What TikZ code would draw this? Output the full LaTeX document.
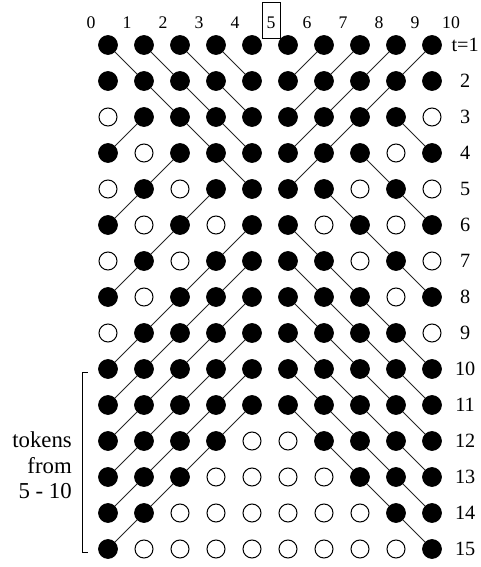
\documentclass[tikz,border=0pt]{standalone}
\usepackage{fontspec}
\setmainfont{Liberation Serif}

\begin{document}
\begin{tikzpicture}[x=1cm, y=-1cm,
    tok/.style={circle, fill=black, draw=black, line width=0.8pt, inner sep=0pt, minimum size=0.52cm},
    hole/.style={circle, fill=white, draw=black, line width=0.8pt, inner sep=0pt, minimum size=0.5cm},
    site1/.style={tok}, site0/.style={hole},
    hop/.style={draw=black!85, line width=0.7pt},
    colnum/.style={font=\fontsize{14}{16}\selectfont, inner sep=0pt},
    rownum/.style={font=\fontsize{16}{18}\selectfont, inner sep=0pt}]
    \useasboundingbox (0,0) rectangle (13.361,15.75);

    % Nhãn cột
    \foreach \k in {0,...,10}
        \node[colnum] (c\k) at (2.53+\k,0.64) {\k};
    \draw[line width=0.6pt] (7.28,0.06) rectangle (7.78,1.06);

    % Các vị trí (1 = có token, 0 = trống)
    \foreach \row [count=\t] in {
        {1,1,1,1,1,1,1,1,1,1},
        {1,1,1,1,1,1,1,1,1,1},
        {0,1,1,1,1,1,1,1,1,0},
        {1,0,1,1,1,1,1,1,0,1},
        {0,1,0,1,1,1,1,0,1,0},
        {1,0,1,0,1,1,0,1,0,1},
        {0,1,0,1,1,1,1,0,1,0},
        {1,0,1,1,1,1,1,1,0,1},
        {0,1,1,1,1,1,1,1,1,0},
        {1,1,1,1,1,1,1,1,1,1},
        {1,1,1,1,1,1,1,1,1,1},
        {1,1,1,1,0,0,1,1,1,1},
        {1,1,1,0,0,0,0,1,1,1},
        {1,1,0,0,0,0,0,0,1,1},
        {1,0,0,0,0,0,0,0,0,1}}
        \foreach \s [count=\i from 0] in \row
            \node[site\s] (p\t-\i) at (3+\i,0.25+\t) {};

    % Nhãn hàng
    \node[rownum] (r1) at (12.92,1.25) {t=1};
    \foreach \t in {2,...,15}
        \node[rownum] (r\t) at (12.92,0.25+\t) {\t};

    % Các bước nhảy
    \foreach \a/\b in {1-0/2-1, 1-1/2-2, 1-2/2-3, 1-3/2-4, 1-6/2-5, 1-7/2-6, 1-8/2-7, 1-9/2-8,
        2-1/3-2, 2-2/3-3, 2-3/3-4, 2-6/3-5, 2-7/3-6, 2-8/3-7,
        3-1/4-0, 3-2/4-3, 3-3/4-4, 3-6/4-5, 3-7/4-6, 3-8/4-9,
        4-2/5-1, 4-3/5-4, 4-6/5-5, 4-7/5-8,
        5-1/6-0, 5-3/6-2, 5-6/6-7, 5-8/6-9,
        6-2/7-1, 6-4/7-3, 6-5/7-6, 6-7/7-8,
        7-1/8-0, 7-3/8-2, 7-4/8-3, 7-5/8-6, 7-6/8-7, 7-8/8-9,
        8-2/9-1, 8-3/9-2, 8-4/9-3, 8-5/9-6, 8-6/9-7, 8-7/9-8,
        9-1/10-0, 9-2/10-1, 9-3/10-2, 9-4/10-3, 9-5/10-6, 9-6/10-7, 9-7/10-8, 9-8/10-9,
        10-1/11-0, 10-2/11-1, 10-3/11-2, 10-4/11-3, 10-5/11-6, 10-6/11-7, 10-7/11-8, 10-8/11-9,
        11-1/12-0, 11-2/12-1, 11-3/12-2, 11-4/12-3, 11-5/12-6, 11-6/12-7, 11-7/12-8, 11-8/12-9,
        12-1/13-0, 12-2/13-1, 12-3/13-2, 12-6/13-7, 12-7/13-8, 12-8/13-9,
        13-1/14-0, 13-2/14-1, 13-7/14-8, 13-8/14-9,
        14-1/15-0, 14-8/15-9}
        \draw[hop] (p\a) -- (p\b);

    % Ngoặc bên trái
    \draw[line width=0.6pt] (2.44,10.33) -- (2.28,10.33) -- (2.28,15.33) -- (2.44,15.33);
    \node[align=right, anchor=east, inner sep=0pt, font=\fontsize{18}{20}\selectfont] (src) at (2.0,12.93) {tokens\\from\\5 - 10};
\end{tikzpicture}
\end{document}
